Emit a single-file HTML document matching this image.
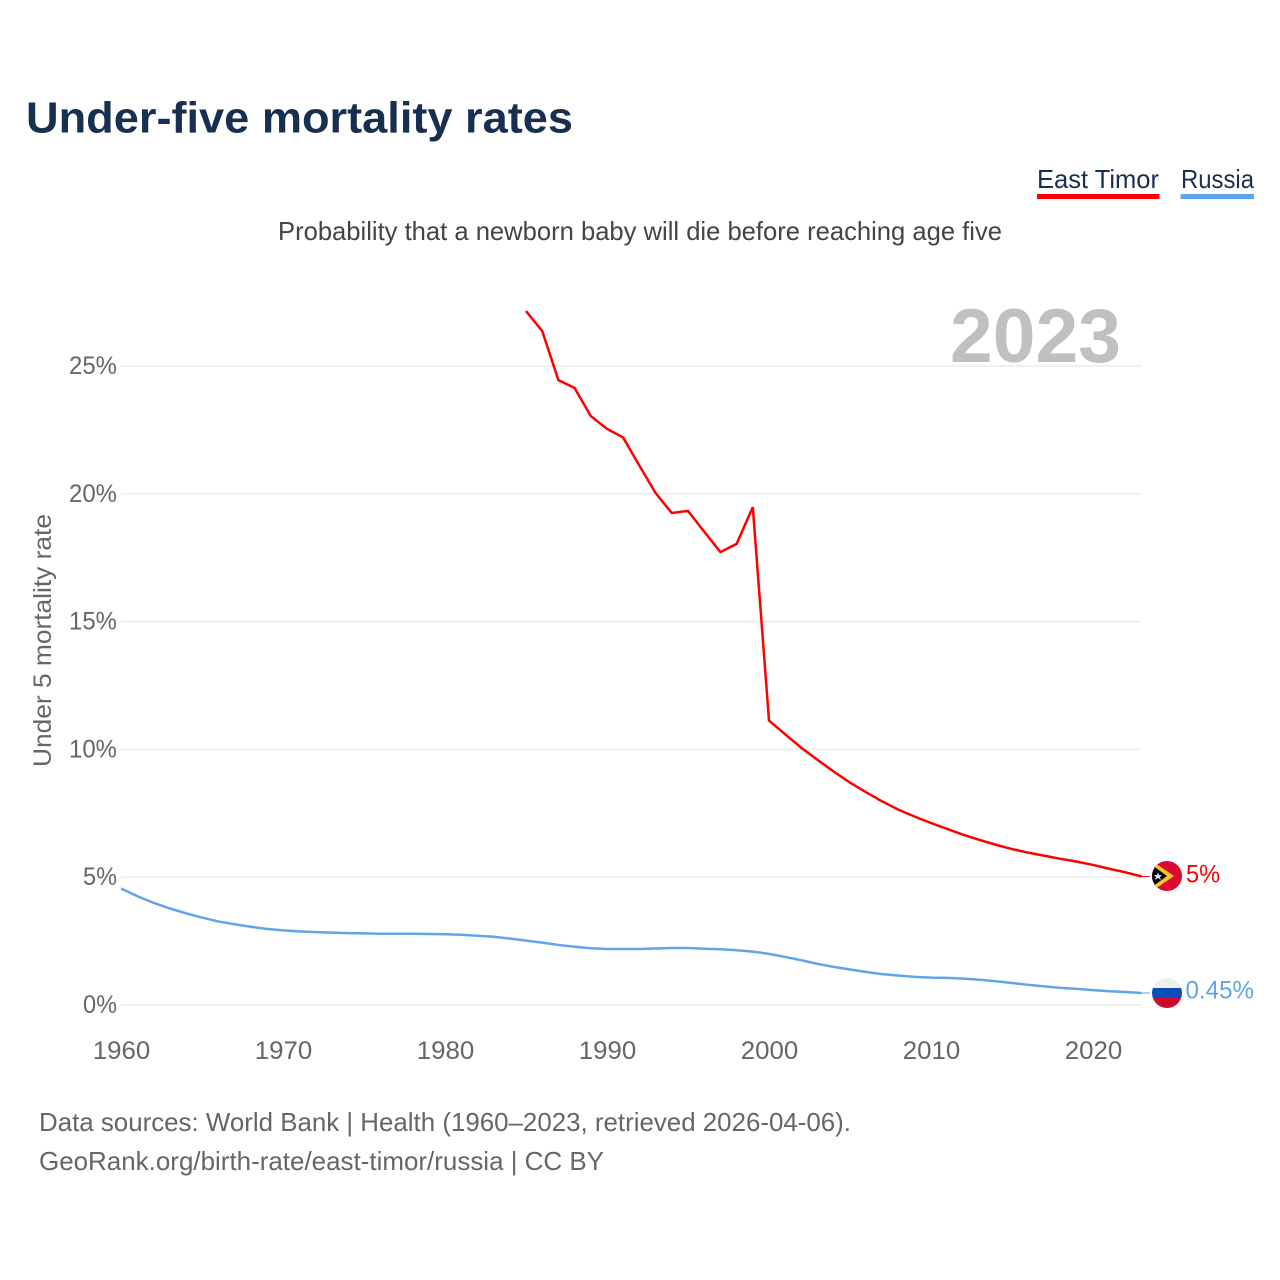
<!DOCTYPE html>
<html lang="en">
<head>
<meta charset="utf-8">
<title>Under-five mortality rates</title>
<style>
html,body{margin:0;padding:0;background:#fff;width:1280px;height:1280px;overflow:hidden}
svg{display:block}
text{font-family:"Liberation Sans",sans-serif}
</style>
</head>
<body>
<svg id="chart" width="1280" height="1280" viewBox="0 0 1280 1280" xmlns="http://www.w3.org/2000/svg">
  <text x="26" y="132.5" font-size="44" font-weight="700" fill="#18304f" textLength="547" lengthAdjust="spacingAndGlyphs">Under-five mortality rates</text>
  <text x="278" y="240" font-size="26" fill="#444444" textLength="724" lengthAdjust="spacingAndGlyphs">Probability that a newborn baby will die before reaching age five</text>

  <g>
    <text x="1037" y="188" font-size="26" fill="#18304f" textLength="122" lengthAdjust="spacingAndGlyphs">East Timor</text>
    <rect x="1037" y="194" width="122.5" height="5" fill="#ff0000"/>
  </g>
  <g>
    <text x="1181" y="188" font-size="26" fill="#18304f" textLength="73" lengthAdjust="spacingAndGlyphs">Russia</text>
    <rect x="1180.5" y="194" width="73.5" height="5" fill="#60a5ea"/>
  </g>

  <text x="950" y="362" font-size="76" font-weight="700" fill="#c0c0c0" textLength="171" lengthAdjust="spacingAndGlyphs">2023</text>

  <g id="grid"></g>
  <g id="y-axis"></g>
  <g id="x-axis"></g>
  <text transform="translate(51,767) rotate(-90)" font-size="25" fill="#666666" textLength="253" lengthAdjust="spacingAndGlyphs">Under 5 mortality rate</text>

  <g id="series"></g>

  <g id="flag-east-timor">
    <defs>
      <clipPath id="clip-tl"><circle cx="1167" cy="876" r="15"/></clipPath>
      <clipPath id="clip-ru"><circle cx="1167" cy="993" r="15"/></clipPath>
    </defs>
    <g clip-path="url(#clip-tl)">
      <rect x="1152" y="861" width="30" height="30" fill="#dc0a2e"/>
      <polygon points="1152,861 1174,876 1152,891" fill="#ffc726"/>
      <polygon points="1152,865 1167,876 1152,887" fill="#000000"/>
      <polygon points="1158,872 1159,875 1162,875 1160,877 1161,880 1158,878 1155,880 1156,877 1154,875 1157,875" fill="#dddddd"/>
    </g>
  </g>
  <g id="flag-russia">
    <g clip-path="url(#clip-ru)">
      <rect x="1152" y="978" width="30" height="10" fill="#eeeeee"/>
      <rect x="1152" y="988" width="30" height="10" fill="#0a4fb8"/>
      <rect x="1152" y="998" width="30" height="10" fill="#d0092e"/>
    </g>
  </g>

  <text x="1186" y="882.5" font-size="25" fill="#ff0000" textLength="34" lengthAdjust="spacingAndGlyphs">5%</text>
  <text x="1185.5" y="998.5" font-size="25" fill="#60a5ea" textLength="68.5" lengthAdjust="spacingAndGlyphs">0.45%</text>

  <text x="39" y="1131" font-size="26" fill="#666666" textLength="812" lengthAdjust="spacingAndGlyphs">Data sources: World Bank | Health (1960–2023, retrieved 2026-04-06).</text>
  <text x="39" y="1170" font-size="26" fill="#666666" textLength="565" lengthAdjust="spacingAndGlyphs">GeoRank.org/birth-rate/east-timor/russia | CC BY</text>
</svg>
<script>
const yTicks = [0, 5, 10, 15, 20, 25];
const xTicks = [1960, 1970, 1980, 1990, 2000, 2010, 2020];
const yearsTimor = [1985,1986,1987,1988,1989,1990,1991,1992,1993,1994,1995,1996,1997,1998,1999,2000,2001,2002,2003,2004,2005,2006,2007,2008,2009,2010,2011,2012,2013,2014,2015,2016,2017,2018,2019,2020,2021,2022,2023];
const valuesTimor = [27.15,26.37,24.45,24.14,23.04,22.54,22.2,21.1,20.03,19.25,19.33,18.52,17.72,18.04,19.48,11.13,10.59,10.06,9.59,9.13,8.7,8.32,7.96,7.64,7.37,7.12,6.89,6.66,6.46,6.27,6.1,5.96,5.84,5.72,5.61,5.48,5.33,5.19,5.03];
const yearsRussia = [1960,1961,1962,1963,1964,1965,1966,1967,1968,1969,1970,1971,1972,1973,1974,1975,1976,1977,1978,1979,1980,1981,1982,1983,1984,1985,1986,1987,1988,1989,1990,1991,1992,1993,1994,1995,1996,1997,1998,1999,2000,2001,2002,2003,2004,2005,2006,2007,2008,2009,2010,2011,2012,2013,2014,2015,2016,2017,2018,2019,2020,2021,2022,2023];
const valuesRussia = [4.56,4.26,4.0,3.78,3.59,3.42,3.27,3.16,3.06,2.98,2.92,2.88,2.85,2.83,2.81,2.80,2.79,2.79,2.79,2.78,2.77,2.75,2.71,2.67,2.6,2.52,2.44,2.35,2.28,2.22,2.19,2.19,2.19,2.21,2.23,2.23,2.2,2.18,2.14,2.09,2.0,1.88,1.75,1.61,1.49,1.39,1.29,1.21,1.15,1.1,1.07,1.06,1.03,0.99,0.93,0.86,0.79,0.73,0.67,0.63,0.58,0.54,0.51,0.47];

const SVG_NS = 'http://www.w3.org/2000/svg';
function xScale(year) { return 121 + (year - 1960) * 16.2; }
function yScale(value) { return 1005 - value * 25.56; }

function linePath(years, values) {
  return years.map(function (yr, i) {
    return (i ? 'L' : 'M') + xScale(yr).toFixed(2) + ' ' + yScale(values[i]).toFixed(2);
  }).join(' ');
}

const gridGroup = document.getElementById('grid');
const yGroup = document.getElementById('y-axis');
const xGroup = document.getElementById('x-axis');
const seriesGroup = document.getElementById('series');

yTicks.forEach(function (t) {
  const line = document.createElementNS(SVG_NS, 'line');
  
  
  line.setAttribute('x1', xScale(1960));
  line.setAttribute('x2', xScale(2023));
  line.setAttribute('y1', yScale(t));
  line.setAttribute('y2', yScale(t));
  line.setAttribute('stroke', '#ececec');
  line.setAttribute('stroke-width', '1.5');
  gridGroup.appendChild(line);

  const label = document.createElementNS(SVG_NS, 'text');
  
  
  label.setAttribute('x', 117);
  label.setAttribute('y', yScale(t) + 8);
  label.setAttribute('text-anchor', 'end');
  label.setAttribute('font-size', '25');
  label.setAttribute('fill', '#666666');
  label.setAttribute('textLength', String(t).length * 14 + 20);
  label.setAttribute('lengthAdjust', 'spacingAndGlyphs');
  label.textContent = t + '%';
  yGroup.appendChild(label);
});

xTicks.forEach(function (t) {
  const label = document.createElementNS(SVG_NS, 'text');
  
  
  label.setAttribute('x', xScale(t) + 0.5);
  label.setAttribute('y', 1059);
  label.setAttribute('text-anchor', 'middle');
  label.setAttribute('font-size', '25');
  label.setAttribute('fill', '#666666');
  label.setAttribute('textLength', '57.5');
  label.setAttribute('lengthAdjust', 'spacingAndGlyphs');
  label.textContent = String(t);
  xGroup.appendChild(label);
});

function addSeries(years, values, color, name) {
  const path = document.createElementNS(SVG_NS, 'path');
  
  
  path.setAttribute('d', linePath(years, values));
  path.setAttribute('fill', 'none');
  path.setAttribute('stroke', color);
  path.setAttribute('stroke-width', '2.5');
  path.setAttribute('stroke-linejoin', 'miter');
  seriesGroup.appendChild(path);

  const n = years.length - 1;
  const lead = document.createElementNS(SVG_NS, 'line');
  
  
  lead.setAttribute('x1', xScale(years[n]));
  lead.setAttribute('x2', 1150);
  lead.setAttribute('y1', yScale(values[n]));
  lead.setAttribute('y2', yScale(values[n]));
  lead.setAttribute('stroke', color);
  lead.setAttribute('stroke-width', '1');
  seriesGroup.appendChild(lead);
}

addSeries(yearsRussia, valuesRussia, '#60a5ea', 'series-russia');
addSeries(yearsTimor, valuesTimor, '#ff0000', 'series-east-timor');
</script>
</body>
</html>
